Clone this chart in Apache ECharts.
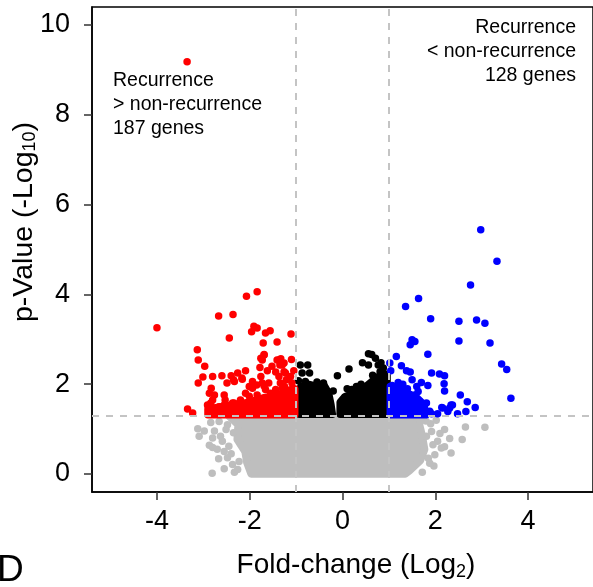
<!DOCTYPE html>
<html>
<head>
<meta charset="utf-8">
<script src="https://cdn.jsdelivr.net/npm/echarts@6/dist/echarts.min.js"></script>
<style>
  html, body { margin: 0; padding: 0; background: #fff; }
  #chart { width: 593px; height: 587px; }
</style>
</head>
<body>
<div id="chart"></div>
<script>
// Axis ticks and significance cut-offs
const xTicks = [-4, -2, 0, 2, 4];
const yTicks = [0, 2, 4, 6, 8, 10];
const foldCuts = [-1, 1];
const pCut = 1.301; // -log10(0.05)

// Individual genes: [log2 fold-change, -log10 p]
const grayPoints = [
  [-3.12,1.01],[-3.09,0.84],[-2.98,0.96],[-2.84,1.15],[-2.80,0.80],[-2.87,0.64],[-2.80,0.59],[-2.76,0.96],
  [-2.67,0.34],[-2.55,0.12],[-2.81,0.02],[-2.48,0.36],[-2.37,0.21],[-2.63,0.84],[-2.59,0.73],[-2.51,0.99],
  [-2.48,1.10],[-2.66,1.17],[-2.26,0.10],[-2.23,0.28],[-2.70,0.55],[-2.45,0.62],[-2.40,0.45],[-2.33,0.04],
  [-2.55,0.50],[-2.35,0.92],
  [3.07,1.04],[2.65,1.05],[2.58,0.77],[2.31,0.79],[2.20,0.99],[2.05,0.73],[2.20,0.61],[2.13,0.58],
  [2.34,0.47],[1.99,0.43],[1.97,0.18],[1.72,0.04],[1.88,0.24],[1.81,0.84],[1.92,0.95],[2.10,0.90],
  [1.95,0.65],[1.85,0.35],[1.90,1.12],[2.02,1.20],[1.80,1.18]
];
const blackPoints = [
  [-0.91,2.43],[-0.75,2.43],[-0.87,2.25],[-0.71,2.25],[-0.11,2.19],[0.14,2.34],[0.63,2.66],[0.71,2.58],
  [0.43,2.48],[0.56,2.43],[0.77,2.43],[0.81,2.28],[0.88,2.36],[-0.41,2.03],[0.77,2.03],[-0.80,2.06],
  [0.56,2.68],[0.83,2.48],[0.86,2.28],[-0.41,1.91],[0.30,1.95],[0.10,1.90],[-0.55,2.05],[-0.20,1.85],
  [0.65,2.20],[0.92,2.10],[-0.95,2.08],[0.20,1.88],[0.40,2.00]
];
const redPoints = [
  [-4.00,3.26],[-2.07,3.96],[-1.84,4.06],[-2.67,3.52],[-2.36,3.55],[-2.44,3.03],[-1.91,3.29],[-1.84,3.25],
  [-1.96,3.17],[-1.66,3.14],[-1.56,3.19],[-1.11,3.12],[-1.71,2.92],[-1.41,2.94],[-3.13,2.77],[-1.69,2.66],
  [-1.76,2.58],[-1.41,2.54],[-1.33,2.57],[-3.11,2.54],[-1.35,2.43],[-1.26,2.47],[-2.97,2.40],[-1.78,2.37],
  [-2.09,2.30],[-2.26,2.25],[-1.44,2.27],[-3.01,2.16],[-2.80,2.17],[-2.60,2.19],[-2.40,2.19],[-2.35,2.10],
  [-3.11,2.03],[-2.49,2.03],[-3.34,1.45],[-3.23,1.36],[-2.33,2.06],[-2.16,2.11],[-1.94,2.06],[-1.76,2.17],
  [-1.73,2.03],[-1.59,2.03],[-1.37,2.17],[-1.26,2.28],[-1.21,2.10],[-1.34,2.03],[-1.09,2.03],[-2.83,1.91],
  [-2.87,1.80],[-2.76,1.76],[-2.80,1.65],[-2.91,1.54],[-2.66,1.50],[-2.87,1.43],[-2.55,1.54],[-2.37,1.58],
  [-2.09,1.80],[-2.01,1.73],[-1.94,1.91],[-1.84,1.76],[-1.66,1.88],[-1.55,1.80],[-1.44,1.88],[-1.30,1.91],
  [-1.19,1.80],[-1.09,1.88],[-1.73,2.54],[-1.69,2.65],[-1.37,2.54],[-1.30,2.43],[-1.23,2.25],[-1.12,2.17],
  [-2.17,2.14],[-2.84,1.58],[-2.55,1.76],[-2.53,1.65],[-2.34,1.58],[-2.01,1.95],[-1.69,1.96],[-2.20,1.65],
  [-1.90,1.62],[-1.60,1.68],[-1.50,1.60],[-2.45,1.42],[-2.75,1.38],[-2.62,1.36],[-2.15,1.45],[-1.05,1.70],
  [-1.15,1.62],[-1.25,1.95],[-1.05,2.30],[-1.10,2.55],[-1.52,2.40],[-1.62,2.30],[-1.85,1.98],[-1.95,1.50],
  [-2.25,1.40],[-1.75,1.45]
];
const bluePoints = [
  [2.98,5.44],[3.33,4.74],[2.76,4.21],[1.64,3.91],[1.36,3.73],[1.90,3.46],[2.51,3.40],[2.89,3.43],
  [3.07,3.36],[2.51,2.96],[3.18,2.92],[1.50,2.99],[1.56,2.95],[1.46,2.88],[1.84,2.67],[1.16,2.62],
  [3.43,2.45],[3.54,2.33],[1.02,2.47],[1.27,2.41],[1.04,2.30],[1.38,2.30],[1.46,2.27],[1.50,2.10],
  [1.92,2.25],[2.09,2.23],[2.20,2.19],[2.19,2.01],[2.20,1.85],[1.70,2.04],[1.84,1.97],[3.63,1.69],
  [2.54,1.76],[2.69,1.61],[2.86,1.48],[2.66,1.39],[2.48,1.34],[2.37,1.54],[2.31,1.47],[2.16,1.47],
  [2.05,1.34],[1.92,1.34],[2.27,1.39],[1.20,2.04],[1.07,1.97],[1.63,1.84],[1.56,1.76],[1.81,1.58],
  [1.74,1.50],[1.66,1.62],[1.49,1.65],[2.34,1.54],[2.14,1.48],[1.30,2.00],[1.40,1.90],[1.88,1.40],
  [1.60,1.95],[1.25,1.85]
];
const topOutlier = [[-3.35, 9.18]];

// Outlines of the densely overplotted clouds (point centres along the edge)
const grayCloud = [
  [-2.44,1.28],[1.70,1.28],[1.66,1.10],[1.72,0.85],[1.77,0.55],[1.68,0.30],[1.45,0.08],[1.35,0.0],
  [-1.97,0.0],[-2.06,0.25],[-2.10,0.50],[-2.27,0.77],[-2.25,1.10]
];
const blackCloudLeft = [
  [-0.93,1.33],[-0.93,1.75],[-0.90,1.95],[-0.75,2.00],[-0.55,1.95],[-0.40,1.98],[-0.30,1.80],[-0.25,1.55],[-0.22,1.33]
];
const blackCloudRight = [
  [-0.05,1.33],[-0.05,1.60],[0.05,1.72],[0.25,1.80],[0.45,1.90],[0.62,2.05],[0.75,2.15],[0.88,2.25],[0.96,2.20],[0.96,1.33]
];
const redCloud = [
  [-2.90,1.32],[-2.90,1.45],[-2.60,1.50],[-2.30,1.55],[-2.00,1.60],[-1.70,1.70],[-1.40,1.75],[-1.20,1.85],[-1.03,1.90],[-1.03,1.32]
];
const blueCloud = [
  [1.03,1.32],[1.03,1.95],[1.20,1.90],[1.40,1.80],[1.60,1.70],[1.75,1.55],[1.80,1.32]
];

const GRAY = '#bebebe', RED = '#ff0000', BLUE = '#0000ff', BLACK = '#000000';
const FONT = '"Liberation Sans", Arial, Helvetica, sans-serif';
const DOT = 7.5;

function cloud(name, verts, color, z) {
  return {
    type: 'custom', name, z, silent: true, data: [0],
    renderItem(params, api) {
      return {
        type: 'polygon',
        shape: { points: verts.map(v => api.coord(v)) },
        style: { fill: color, stroke: color, lineWidth: DOT, lineJoin: 'round' }
      };
    }
  };
}
function dots(name, pts, color, z) {
  return {
    type: 'scatter', name, z, data: pts, symbol: 'circle', symbolSize: DOT,
    silent: true, itemStyle: { color, opacity: 1 }
  };
}

const chart = echarts.init(document.getElementById('chart'), null, { renderer: 'canvas' });
chart.setOption({
  animation: false,
  backgroundColor: '#fff',
  grid: { left: 92, top: 7, width: 504, height: 485, show: true, borderColor: '#000', borderWidth: 1.5, backgroundColor: 'transparent' },
  xAxis: {
    type: 'value', min: -5.4, max: 5.4,
    axisLine: { show: true, onZero: false, lineStyle: { color: '#000', width: 1.5 } },
    axisTick: { show: true, customValues: xTicks, length: 8, lineStyle: { color: '#333', width: 1.5 } },
    axisLabel: { customValues: xTicks, fontSize: 27, fontFamily: FONT, color: '#000', margin: 16 },
    splitLine: { show: false }
  },
  yAxis: {
    type: 'value', min: -0.4, max: 10.4,
    axisLine: { show: true, onZero: false, lineStyle: { color: '#000', width: 1.5 } },
    axisTick: { show: true, customValues: yTicks, length: 8, lineStyle: { color: '#333', width: 1.5 } },
    axisLabel: { customValues: yTicks, fontSize: 27, fontFamily: FONT, color: '#000', margin: 22 },
    splitLine: { show: false }
  },
  series: [
    {
      type: 'scatter', name: 'cutoffs', data: [], z: 1, silent: true,
      markLine: {
        silent: true, symbol: 'none', animation: false,
        label: { show: false },
        lineStyle: { color: '#c4c4c4', type: [7, 7], width: 2 },
        data: foldCuts.map(v => ({ xAxis: v })).concat([{ yAxis: pCut }])
      }
    },
    cloud('grayCloud', grayCloud, GRAY, 2),
    dots('gray', grayPoints, GRAY, 2),
    cloud('blackLeft', blackCloudLeft, BLACK, 3),
    cloud('blackRight', blackCloudRight, BLACK, 3),
    dots('black', blackPoints, BLACK, 3),
    cloud('redCloud', redCloud, RED, 4),
    dots('red', redPoints.concat(topOutlier), RED, 4),
    cloud('blueCloud', blueCloud, BLUE, 4),
    dots('blue', bluePoints, BLUE, 4)
  ],
  graphic: [
    {
      type: 'text', x: 113, y: 69, silent: true,
      style: { text: 'Recurrence\n> non-recurrence\n187 genes', fontSize: 19.5, fontFamily: FONT, fill: '#000', lineHeight: 24, align: 'left', verticalAlign: 'top' }
    },
    {
      type: 'text', x: 576, y: 16, silent: true,
      style: { text: 'Recurrence\n< non-recurrence\n128 genes', fontSize: 19.5, fontFamily: FONT, fill: '#000', lineHeight: 24, align: 'right', verticalAlign: 'top' }
    },
    {
      type: 'text', x: 24.5, y: 222, rotation: Math.PI / 2, silent: true,
      style: {
        text: '{m|p-Value (-Log}{s|10}{m|)}', align: 'center', verticalAlign: 'middle',
        rich: {
          m: { fontSize: 28.5, fontFamily: FONT, fill: '#000', lineHeight: 30 },
          s: { fontSize: 18, fontFamily: FONT, fill: '#000', lineHeight: 14, verticalAlign: 'bottom' }
        }
      }
    },
    {
      type: 'text', x: 356, y: 565, silent: true,
      style: {
        text: '{m|Fold-change (Log}{s|2}{m|)}', align: 'center', verticalAlign: 'middle',
        rich: {
          m: { fontSize: 28, fontFamily: FONT, fill: '#000', lineHeight: 32 },
          s: { fontSize: 18, fontFamily: FONT, fill: '#000', lineHeight: 10, verticalAlign: 'bottom' }
        }
      }
    },
    {
      type: 'text', x: -3, y: 571, silent: true,
      style: { text: 'D', fontSize: 37, fontFamily: FONT, fill: '#000', align: 'left', verticalAlign: 'middle' }
    }
  ]
});
</script>
</body>
</html>
